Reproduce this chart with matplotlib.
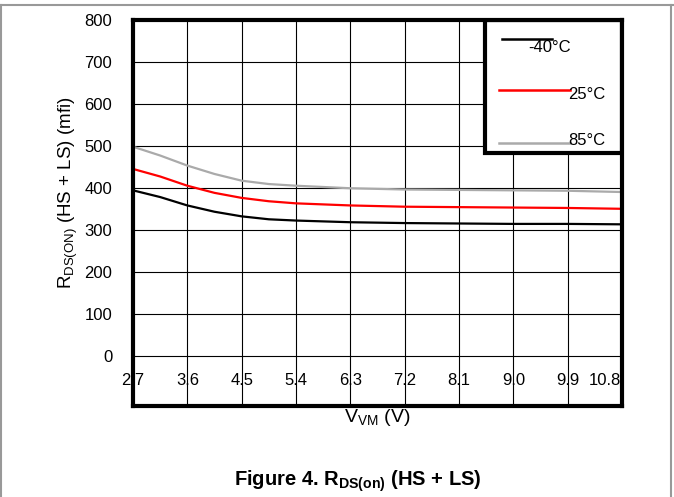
import matplotlib
matplotlib.use("Agg")
import matplotlib.pyplot as plt
from matplotlib.lines import Line2D
from matplotlib.patches import Rectangle

plt.rcParams['font.family'] = ['Liberation Sans', 'DejaVu Sans']
plt.rcParams['mathtext.fontset'] = 'custom'
plt.rcParams['mathtext.rm'] = 'Liberation Sans'
plt.rcParams['mathtext.bf'] = 'Liberation Sans:bold'

# supply voltage (V)
vm = [2.7, 3.15, 3.6, 4.05, 4.5, 4.95, 5.4, 6.3, 7.2, 8.1, 9.0, 9.9, 10.8]
# RDS(on) (mOhm) per temperature
r_m40 = [394, 378, 358, 343, 332, 325, 322, 318, 316, 315, 314, 314, 313]
r_25 = [445, 427, 405, 388, 376, 368, 363, 358, 355, 354, 353, 352, 350]
r_85 = [498, 477, 453, 433, 417, 409, 405, 399, 396, 395, 394, 393, 390]

xticks = [2.7, 3.6, 4.5, 5.4, 6.3, 7.2, 8.1, 9.0, 9.9, 10.8]
xlabels = ['2.7', '3.6', '4.5', '5.4', '6.3', '7.2', '8.1', '9.0', '9.9', '10.8']
yticks = [0, 100, 200, 300, 400, 500, 600, 700, 800]
series_names = ['-40°C', '25°C', '85°C']
colores = ['#000000', '#ff0000', '#aaaaaa']

fs = 12

fig = plt.figure(figsize=(6.74, 4.97), dpi=100)
ax = fig.add_axes([133/674, 1 - 406/497, 489/674, 386/497])

ax.set_xlim(2.7, 10.8)
ax.set_ylim(-120, 800)

# grid
for x in xticks:
    ax.axvline(x, color='black', lw=0.8, zorder=1)
for y in yticks:
    ax.axhline(y, color='black', lw=0.8, zorder=1)

for datos, c in zip([r_m40, r_25, r_85], colores):
    ax.plot(vm, datos, color=c, lw=1.6, zorder=3, solid_capstyle='butt')

ax.set_xticks([])
ax.set_yticks(yticks)
ax.set_yticklabels([str(v) for v in yticks], fontsize=fs)
ax.tick_params(axis='y', length=0, pad=15)

# x tick labels inside the plot area
for x, lab in zip(xticks, xlabels):
    if lab == '10.8':
        ax.text(x - 0.02, 0.067, lab, transform=ax.get_xaxis_transform(),
                ha='right', va='center', fontsize=fs, zorder=4)
    else:
        ax.text(x, 0.067, lab, transform=ax.get_xaxis_transform(),
                ha='center', va='center', fontsize=fs, zorder=4)

for s in ax.spines.values():
    s.set_linewidth(3)
    s.set_zorder(6)

# legend box
ax.add_patch(Rectangle((0.720, 0.655), 0.28, 0.345, transform=ax.transAxes,
                       facecolor='white', edgecolor='black', lw=3, zorder=5))
leg_lines = [(0.754, 0.856, 0.950), (0.748, 0.894, 0.819), (0.748, 0.894, 0.682)]
leg_text = [(0.808, 0.929), (0.890, 0.806), (0.890, 0.687)]
for (x0, x1, y), (tx, ty), nombre, c in zip(leg_lines, leg_text, series_names, colores):
    ax.add_line(Line2D([x0, x1], [y, y], transform=ax.transAxes, color=c, lw=1.8, zorder=6))
    ax.text(tx, ty, nombre, transform=ax.transAxes, ha='left', va='center',
            fontsize=fs, zorder=7)

fig.text(68/674, 1 - 193/497, r'R$_\mathregular{DS(ON)}$ (HS + LS) (mfi)',
         rotation=90, ha='center', va='center', fontsize=13.5)
fig.text(377/674, 1 - 418/497, r'V$_\mathregular{VM}$ (V)', ha='center', va='center', fontsize=14)
fig.text(358/674, 1 - 481/497, r'Figure 4. R$_\mathbf{DS(on)}$ (HS + LS)',
         ha='center', va='center', fontsize=14.5, fontweight='bold')

# page frame
fig.add_artist(Line2D([0, 1], [1 - 5/497, 1 - 5/497], transform=fig.transFigure, color='#999999', lw=1.5))
fig.add_artist(Line2D([0.7/674, 0.7/674], [0, 1 - 5/497], transform=fig.transFigure, color='#999999', lw=1.5))
fig.add_artist(Line2D([671/674, 671/674], [0, 1 - 5/497], transform=fig.transFigure, color='#999999', lw=1.5))

fig.savefig('out.png', dpi=100)
